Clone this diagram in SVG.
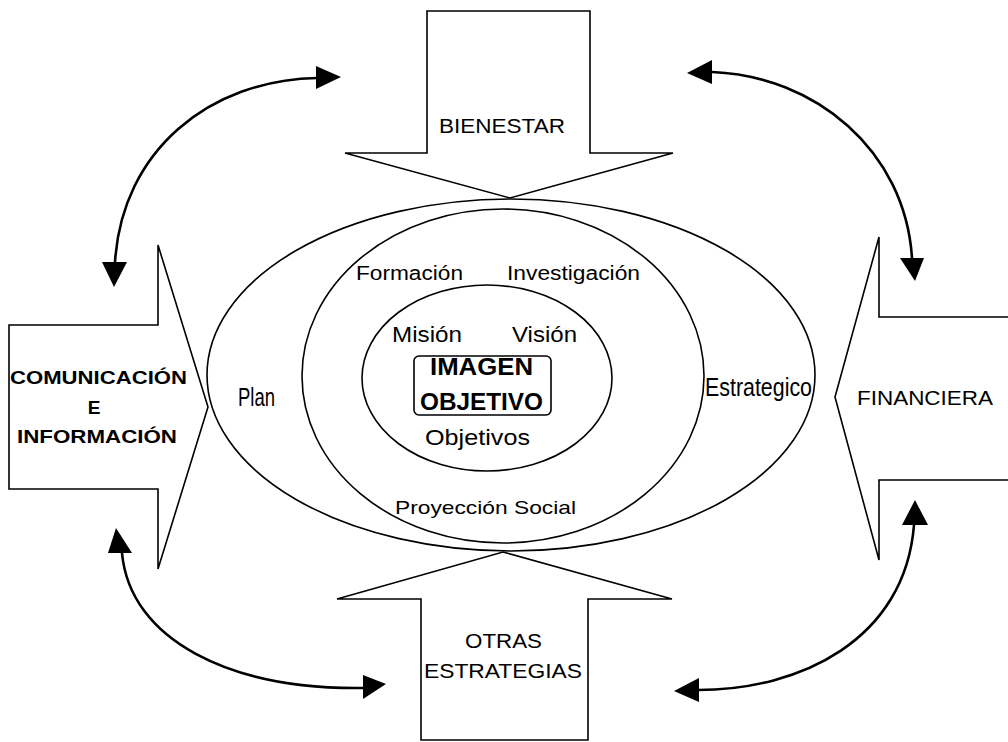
<svg xmlns="http://www.w3.org/2000/svg" width="1008" height="742" viewBox="0 0 1008 742">
<style>
.blk{fill:#fff;stroke:#000;stroke-width:1.6}
.ell{fill:none;stroke:#000;stroke-width:1.6}
.cur{fill:none;stroke:#000;stroke-width:2.6}
.head{fill:#000}
text{font-family:"Liberation Sans",Arial,sans-serif;fill:#000}
.t{font-size:20px}
.b{font-size:19px;font-weight:bold}
.big{font-size:24px;font-weight:bold}
</style>
<rect width="1008" height="742" fill="#fff"/>
<g id="bienestar">
<polygon class="blk" points="427,11 590,11 590,153 673,153 510,198 345,153 427,153"/>
<text class="t" x="439" y="133" textLength="126" lengthAdjust="spacingAndGlyphs">BIENESTAR</text>
</g>
<g id="comunicacion">
<polygon class="blk" points="9,325 158,325 158,245 208,407 158,569 158,489 9,489"/>
<text class="b" x="10" y="384" textLength="177" lengthAdjust="spacingAndGlyphs">COMUNICACIÓN</text>
<text class="b" x="94" y="414" text-anchor="middle">E</text>
<text class="b" x="17" y="443" textLength="160" lengthAdjust="spacingAndGlyphs">INFORMACIÓN</text>
</g>
<g id="financiera">
<polygon class="blk" points="1012,317 879,317 879,237 835,397 879,560 879,480 1012,480"/>
<text class="t" x="857" y="405" textLength="136" lengthAdjust="spacingAndGlyphs">FINANCIERA</text>
</g>
<g id="otras">
<polygon class="blk" points="421,740 421,599 337,599 503,552 672,599 588,599 588,740"/>
<text class="t" x="465" y="648" textLength="77" lengthAdjust="spacingAndGlyphs">OTRAS</text>
<text class="t" x="424" y="678" textLength="158" lengthAdjust="spacingAndGlyphs">ESTRATEGIAS</text>
</g>
<g id="plan-estrategico">
<ellipse class="ell" cx="511" cy="375" rx="304" ry="176"/>
<text x="238" y="406" font-size="25" textLength="37" lengthAdjust="spacingAndGlyphs">Plan</text>
<text x="705" y="396" font-size="25" textLength="107" lengthAdjust="spacingAndGlyphs">Estrategico</text>
</g>
<g id="funciones">
<ellipse class="ell" cx="503" cy="376" rx="201" ry="167"/>
<text class="t" x="356" y="280" textLength="107" lengthAdjust="spacingAndGlyphs">Formación</text>
<text class="t" x="507" y="280" textLength="133" lengthAdjust="spacingAndGlyphs">Investigación</text>
<text x="395" y="514" font-size="19" textLength="181" lengthAdjust="spacingAndGlyphs">Proyección Social</text>
</g>
<g id="mision-vision">
<ellipse class="ell" cx="487" cy="378" rx="125" ry="93"/>
<text x="392" y="342" font-size="22" textLength="70" lengthAdjust="spacingAndGlyphs">Misión</text>
<text x="512" y="342" font-size="22" textLength="65" lengthAdjust="spacingAndGlyphs">Visión</text>
<text x="425" y="445" font-size="22" textLength="105" lengthAdjust="spacingAndGlyphs">Objetivos</text>
</g>
<g id="imagen-objetivo">
<rect x="414" y="356" width="137" height="59" rx="5" fill="none" stroke="#000" stroke-width="1.6"/>
<text class="big" x="430" y="375" textLength="103" lengthAdjust="spacingAndGlyphs">IMAGEN</text>
<text class="big" x="420" y="410" textLength="123" lengthAdjust="spacingAndGlyphs">OBJETIVO</text>
</g>
<g id="connectors">
<path class="cur" d="M115,262 C122,150 210,80 317,78"/>
<polygon class="head" points="102,262 127,262 114,287"/>
<polygon class="head" points="316,66 316,89 341,77"/>
<path class="cur" d="M712,72 C815,76 905,150 912,258"/>
<polygon class="head" points="712,60 712,84 687,73"/>
<polygon class="head" points="900,258 924,258 915,281"/>
<path class="cur" d="M122,553 C130,640 230,690 364,688"/>
<polygon class="head" points="108,553 132,553 116,528"/>
<polygon class="head" points="363,675 363,699 386,684"/>
<path class="cur" d="M914,525 C905,640 800,690 698,690"/>
<polygon class="head" points="902,525 928,525 915,500"/>
<polygon class="head" points="699,678 699,702 674,691"/>
</g>
</svg>
